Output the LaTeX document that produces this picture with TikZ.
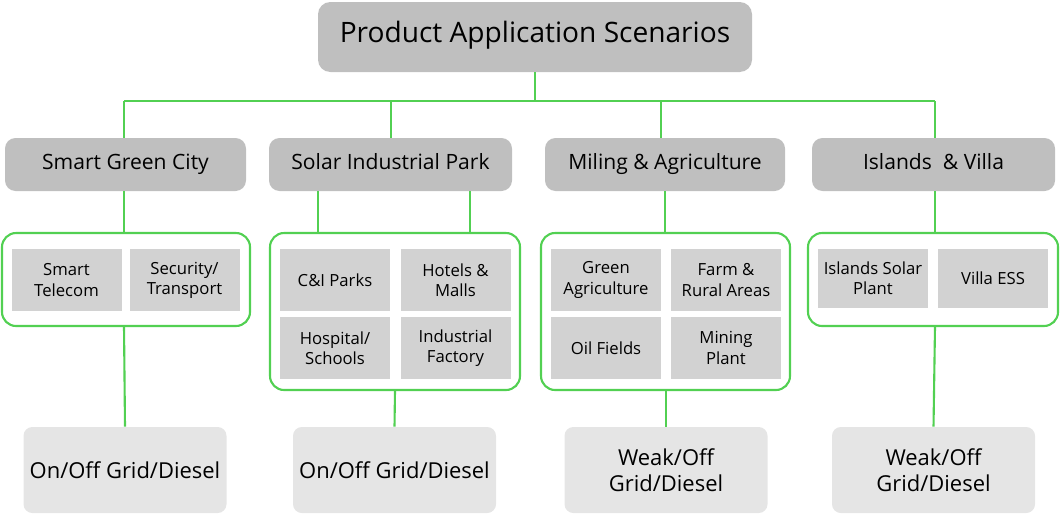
\documentclass[tikz,border=0pt]{standalone}
\usepackage{fontspec}
\setmainfont{Open Sans}
\begin{document}
\begin{tikzpicture}[x=0.02cm,y=-0.02cm,
  head/.style={fill=gray!50,rounded corners=7pt,inner sep=0pt,text height=1.6ex,text depth=0.45ex},
  cat/.style={fill=gray!50,rounded corners=6pt,inner sep=0pt,text height=1.6ex,text depth=0.45ex,font=\fontsize{12}{14}\selectfont},
  item/.style={fill=gray!35,inner sep=0pt,align=center,font=\fontsize{9.5}{11.5}\selectfont},
  group/.style={draw=linegreen,line width=1.2pt,rounded corners=8pt},
  base/.style={fill=gray!20,rounded corners=5pt,inner sep=0pt,align=center,font=\fontsize{12.5}{15}\selectfont},
  link/.style={draw=linegreen,line width=1.2pt}]
  \definecolor{linegreen}{RGB}{82,208,82}
  \useasboundingbox (0,0) rectangle (1060,515);
  % title
  \node[head,minimum width=434*0.02cm,minimum height=70*0.02cm,font=\fontsize{16}{19}\selectfont] (top) at (535,37) {Product Application Scenarios};
  % categories
  \foreach \n/\x/\w/\t in {c1/125.5/241/Smart Green City,c2/390.5/243/Solar Industrial Park,c3/665/240/Miling \& Agriculture,c4/933.5/243/Islands\ \ \& Villa}
    \node[cat,minimum width=\w*0.02cm,minimum height=53*0.02cm] (\n) at (\x,164.5) {\t};
  % bus
  \coordinate (b0) at (535,101);
  \draw[link] (top) -- (b0);
  \draw[link] (124,101) -- (935,101);
  \foreach \x/\n in {124/c1,391/c2,661/c3,935/c4}
    \draw[link] (\x,101) -- (\x,138);
  % groups
  \draw[group] (2,233) rectangle (250,326);
  \draw[group] (270,233) rectangle (520,390);
  \draw[group] (541,233) rectangle (790,390);
  \draw[group] (808,233) rectangle (1058,326);
  \draw[link] (124,191) -- (124,233);
  \draw[link] (318,191) -- (318,233);
  \draw[link] (470,191) -- (470,233);
  \draw[link] (665,191) -- (665,233);
  \draw[link] (935,191) -- (935,233);
  % items
  \foreach \n/\x/\y/\t in {i1/66.5/280/{Smart\\Telecom},i2/184.5/280/{Security/\\Transport},
    i3/335/280/{C\&I Parks},i4/455.5/280/{Hotels \&\\Malls},i5/335/348/{Hospital/\\Schools},i6/455.5/348/{Industrial\\Factory},
    i7/606/280/{Green\\Agriculture},i8/726/280/{Farm \&\\Rural Areas},i9/606/348/{Oil Fields},i10/726/348/{Mining\\Plant}}
    \node[item,minimum width=110*0.02cm,minimum height=62*0.02cm] (\n) at (\x,\y) {\t};
  \node[item,minimum width=110*0.02cm,minimum height=59*0.02cm] (i11) at (873,278.5) {Islands Solar\\Plant};
  \node[item,minimum width=110*0.02cm,minimum height=59*0.02cm] (i12) at (993,278.5) {Villa ESS};
  % bottom
  \foreach \n/\x/\t in {d1/125/{On/Off Grid/Diesel},d2/394.5/{On/Off Grid/Diesel},d3/666/{Weak/Off\\Grid/Diesel},d4/933.5/{Weak/Off\\Grid/Diesel}}
    \node[base,minimum width=203*0.02cm,minimum height=86*0.02cm] (\n) at (\x,470) {\t};
  \draw[link] (124,326) -- (d1.north);
  \draw[link] (395,390) -- (d2.north);
  \draw[link] (666,390) -- (d3.north);
  \draw[link] (935,326) -- (d4.north);
\end{tikzpicture}
\end{document}
